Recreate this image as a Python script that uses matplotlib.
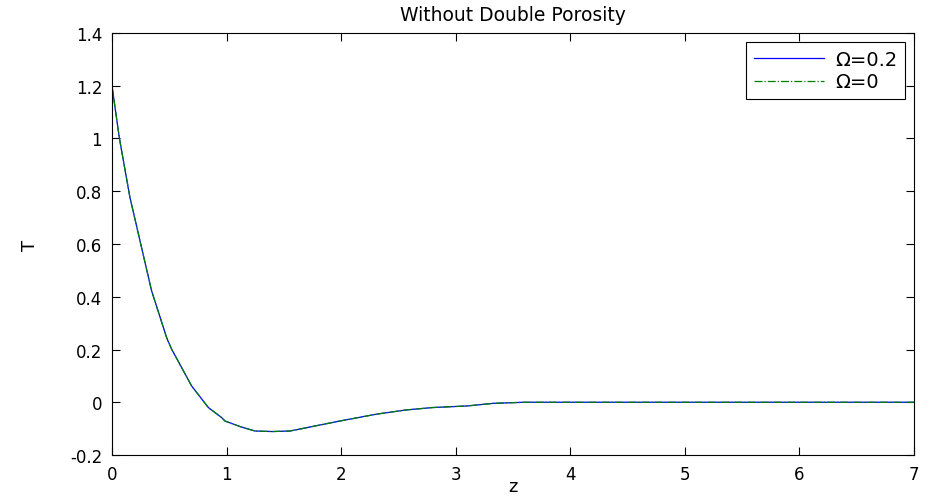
import numpy as np
import matplotlib
matplotlib.use('Agg')
import matplotlib.pyplot as plt
from matplotlib.ticker import FuncFormatter

plt.rcParams['font.family'] = ['DejaVu Sans']

# values (both curves coincide)
z = [0.0, 0.064, 0.157, 0.346, 0.477, 0.521, 0.695, 0.841, 0.957, 0.986,
     1.117, 1.248, 1.4, 1.554, 1.99, 2.31, 2.57, 2.8, 3.1, 3.33, 3.6,
     4.0, 5.0, 6.0, 7.0]
T_omega02 = [1.2, 1.003, 0.776, 0.422, 0.245, 0.201, 0.062, -0.02, -0.058, -0.071,
             -0.092, -0.109, -0.111, -0.109, -0.071, -0.045, -0.029, -0.02, -0.014,
             -0.004, 0.0, 0.0, 0.0, 0.0, 0.0]
T_omega0 = list(T_omega02)

labels = ['\u03a9=0.2', '\u03a9=0']

fig = plt.figure(figsize=(9.3, 5.02), dpi=100)
ax = fig.add_axes([0.1204, 0.0916, 0.8624, 0.8407])

ax.plot(z, T_omega02, color='b', linestyle='-', linewidth=0.9, label=labels[0])
ax.plot(z, T_omega0, color=(0, 0.5, 0), linestyle='-.', linewidth=0.9, label=labels[1])

ax.set_xlim(0, 7)
ax.set_ylim(-0.2, 1.4)
ax.set_xticks(np.arange(0, 8, 1))
ax.set_yticks(np.arange(-0.2, 1.41, 0.2))
ax.yaxis.set_major_formatter(FuncFormatter(lambda v, p: '%g' % round(v, 2)))
ax.tick_params(direction='in', top=True, right=True, length=6, labelsize=12, pad=7)
for s in ax.spines.values():
    s.set_linewidth(0.8)

ax.set_title('Without Double Porosity', fontsize=13.5, pad=9)
ax.set_xlabel('z', fontsize=13)
ax.set_ylabel('T', fontsize=13)
ax.xaxis.set_label_coords(0.5, -0.052)
ax.yaxis.set_label_coords(-0.091, 0.5)

leg = ax.legend(loc='upper right', fontsize=14, fancybox=False, framealpha=1,
                edgecolor='black', handlelength=3.6, handletextpad=0.6,
                borderaxespad=0.45, labelspacing=0.2, borderpad=0.4)
leg.get_frame().set_linewidth(0.8)

fig.savefig('out.png', dpi=100)
